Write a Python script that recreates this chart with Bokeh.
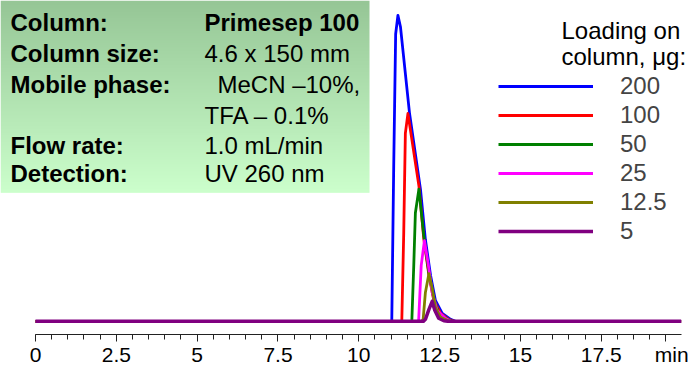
import numpy as np
from bokeh.plotting import figure
from bokeh.models import Label, Legend, LegendItem, FixedTicker, Range1d
from bokeh.embed import file_html
from bokeh.resources import INLINE

# ---------------- data ----------------
loadings = ["200", "100", "50", "25", "12.5", "5"]
colors = ["#0000ff", "#ff0000", "#008000", "#ff00ff", "#808000", "#800080"]

t_200 = [0, 11.02, 11.08, 11.14, 11.21, 11.29, 11.57, 11.91, 12.06, 12.22, 12.37, 12.58, 12.84, 12.99, 19.97]
s_200 = [0, 0, 156, 289, 307.7, 296, 209, 132, 82, 46, 21, 8, 2, 0, 0]

t_100 = [0, 11.33, 11.39, 11.44, 11.52, 11.86, 12.01, 12.17, 12.32, 12.53, 12.78, 12.95, 19.97]
s_100 = [0, 0, 89, 189, 209, 136, 83, 46, 21, 8, 2, 0, 0]

t_50 = [0, 11.64, 11.70, 11.75, 11.86, 12.01, 12.17, 12.32, 12.47, 12.75, 12.90, 19.97]
s_50 = [0, 0, 56, 109, 133, 86, 48, 23, 8, 2, 0, 0]

t_25 = [0, 11.85, 11.93, 12.03, 12.14, 12.27, 12.42, 12.68, 12.85, 19.97]
s_25 = [0, 0, 56, 81, 59, 29, 11, 3, 0, 0]

t_12_5 = [0, 11.95, 11.99, 12.06, 12.17, 12.27, 12.37, 12.53, 12.73, 12.85, 19.97]
s_12_5 = [0, 0, 2, 29, 48, 33, 14, 4, 1, 0, 0]

t_5 = [0, 12.0, 12.06, 12.17, 12.27, 12.35, 12.47, 12.63, 12.75, 19.97]
s_5 = [0, 0, 2, 12, 20, 11, 3, 0.5, 0, 0]

times = [t_200, t_100, t_50, t_25, t_12_5, t_5]
signals = [s_200, s_100, s_50, s_25, s_12_5, s_5]

major_ticks = [0, 2.5, 5, 7.5, 10, 12.5, 15, 17.5, 19.5]
tick_labels = ["0", "2.5", "5", "7.5", "10", "12.5", "15", "17.5", "\u00a0\u00a0min"]
minor_ticks = [i * 0.5 for i in range(40)]

param_names = ["Column:", "Column size:", "Mobile phase:", "", "Flow rate:", "Detection:"]
param_values = ["Primesep 100", "4.6 x 150 mm", "MeCN \u201310%,", "TFA \u2013 0.1%", "1.0 mL/min", "UV 260 nm"]
legend_title = ["Loading on", "column, \u03bcg:"]

# ---------------- layout ----------------
W, H = 689, 368
BOTTOM = 32
FW, FH = W, H - BOTTOM
SX = 32.33                # px per minute
X0 = -35 / SX
X1 = X0 + FW / SX
SY = 1.0                  # px per signal unit
YMAX = 322.7 / SY
YMIN = YMAX - FH / SY


def dx(px):
    return X0 + px / SX


def dy(py):
    return YMAX - py / SY


p = figure(width=W, height=H, output_backend="svg", toolbar_location=None,
           x_range=Range1d(X0, X1), y_range=Range1d(YMIN, YMAX),
           y_axis_location=None,
           min_border_left=0, min_border_right=0, min_border_top=0,
           min_border_bottom=BOTTOM)
p.grid.visible = False
p.outline_line_color = None
p.background_fill_color = "white"
p.border_fill_color = "white"

# gradient info box
N = 194
top_c = np.array([150, 198, 150])
bot_c = np.array([204, 255, 204])
frac = np.linspace(0, 1, N)[:, None]
rgb = (bot_c[None, :] * (1 - frac) + top_c[None, :] * frac).astype(np.uint8)
img = np.zeros((N, 1, 4), dtype=np.uint8)
img[:, 0, :3] = rgb
img[:, 0, 3] = 255
img32 = img.view(dtype=np.uint32).reshape((N, 1))
p.image_rgba(image=[img32], x=dx(0), y=dy(193.5), dw=369 / SX, dh=193.5 / SY)

# traces
renderers = []
for t, s, c in zip(times, signals, colors):
    lw = 3.5 if c == "#800080" else 2.8
    r = p.line(t, s, line_color=c, line_width=lw, line_join="round")
    renderers.append(r)

# axis
ax = p.xaxis[0]
ax.ticker = FixedTicker(ticks=major_ticks, minor_ticks=minor_ticks)
ax.major_label_overrides = {float(k): v for k, v in zip(major_ticks, tick_labels)}
ax.bounds = (0, 19.97)
ax.major_tick_in = 0
ax.major_tick_out = 7
ax.minor_tick_in = 0
ax.minor_tick_out = 5
ax.axis_line_color = "#222222"
ax.major_tick_line_color = "#222222"
ax.minor_tick_line_color = "#222222"
ax.major_label_text_font = "Liberation Sans"
ax.major_label_text_font_size = "21px"
ax.major_label_text_color = "black"
ax.major_label_standoff = 1

# info text (vertical centres of the rows)
rows_y = [22.5, 53.5, 84.5, 115.5, 145.5, 174.5]
for name, val, yy in zip(param_names, param_values, rows_y):
    if name:
        p.add_layout(Label(x=dx(10), y=dy(yy), text=name, text_baseline="middle",
                           text_font="Liberation Sans", text_font_size="24px",
                           text_font_style="bold", text_color="black"))
    xv = 217 if val.startswith("MeCN") else 204
    p.add_layout(Label(x=dx(xv), y=dy(yy), text=val, text_baseline="middle",
                       text_font="Liberation Sans", text_font_size="24px",
                       text_font_style="bold" if val.startswith("Primesep") else "normal",
                       text_color="black"))

# legend title
for txt, yy in zip(legend_title, [30.5, 56.5]):
    p.add_layout(Label(x=dx(561), y=dy(yy), text=txt, text_baseline="middle",
                       text_font="Liberation Sans", text_font_size="24px",
                       text_color="black"))

legend = Legend(items=[LegendItem(label=l, renderers=[r]) for l, r in zip(loadings, renderers)],
                location=(498, FH - 247), glyph_width=95, glyph_height=28, label_height=28,
                label_standoff=27, spacing=1, padding=0, margin=0,
                label_text_font="Liberation Sans", label_text_font_size="24px",
                background_fill_alpha=0, border_line_alpha=0)
p.add_layout(legend)

open("out.html", "w").write(file_html(p, INLINE))
